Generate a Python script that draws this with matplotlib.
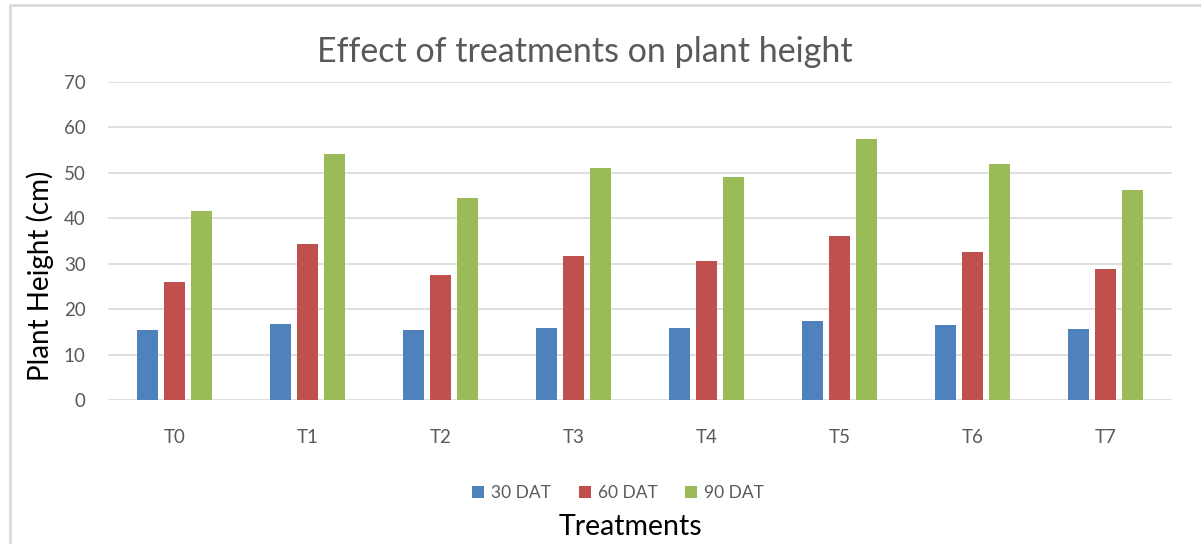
import matplotlib.pyplot as plt
import numpy as np
from matplotlib.patches import Rectangle

plt.rcParams['font.family'] = ['Lato', 'DejaVu Sans']

# data
treatments = ['T0', 'T1', 'T2', 'T3', 'T4', 'T5', 'T6', 'T7']
dat30 = [15.4, 16.7, 15.4, 15.9, 15.9, 17.4, 16.4, 15.7]
dat60 = [25.9, 34.3, 27.6, 31.8, 30.7, 36.1, 32.6, 28.8]
dat90 = [41.6, 54.2, 44.4, 51.1, 49.1, 57.5, 52.0, 46.3]
series_names = ['30 DAT', '60 DAT', '90 DAT']
colors = ['#4F81BD', '#C0504D', '#9BBB59']

W, H = 1201, 544
fig = plt.figure(figsize=(W / 100, H / 100), dpi=100)

# chart border (light gray)
fig.patches.append(Rectangle((10 / W, -0.01), 1.02, 1 - 5 / H + 0.01,
                             transform=fig.transFigure, fill=False,
                             edgecolor='#D9D9D9', linewidth=2))

ax = fig.add_axes([108 / W, 144 / H, 1064 / W, 318 / H])

x = np.arange(len(treatments))
width = 0.165
step = 0.203
for i, (vals, name, c) in enumerate(zip([dat30, dat60, dat90], series_names, colors)):
    ax.bar(x + (i - 1) * step, vals, width, color=c, label=name, zorder=3)

ax.set_xlim(-0.5, len(treatments) - 0.5)
ax.set_ylim(0, 70)
ax.set_yticks(range(0, 71, 10))
ax.set_xticks(x)
ax.set_xticklabels(treatments)
ax.grid(axis='y', color='#D9D9D9', linewidth=1.2, zorder=0)
for s in ax.spines.values():
    s.set_visible(False)
ax.tick_params(axis='both', length=0, labelsize=13.5, colors='#595959')
ax.tick_params(axis='y', pad=16)
ax.tick_params(axis='x', pad=21)

fig.text(585 / W, 1 - 52 / H, 'Effect of treatments on plant height',
         ha='center', va='center', fontsize=24.5, color='#595959')
fig.text(40 / W, 1 - 276 / H, 'Plant Height (cm)', rotation=90,
         ha='center', va='center', fontsize=20, color='black')
fig.text(630 / W, 1 - 527 / H, 'Treatments', ha='center', va='center',
         fontsize=20.5, color='black')

fig.legend(loc='center', bbox_to_anchor=(618 / W, 1 - 493 / H), ncol=3,
           frameon=False, fontsize=12.5, labelcolor='#595959',
           handlelength=0.7, handleheight=0.7, handletextpad=0.4,
           columnspacing=1.6)

fig.savefig('out.png', dpi=100)
